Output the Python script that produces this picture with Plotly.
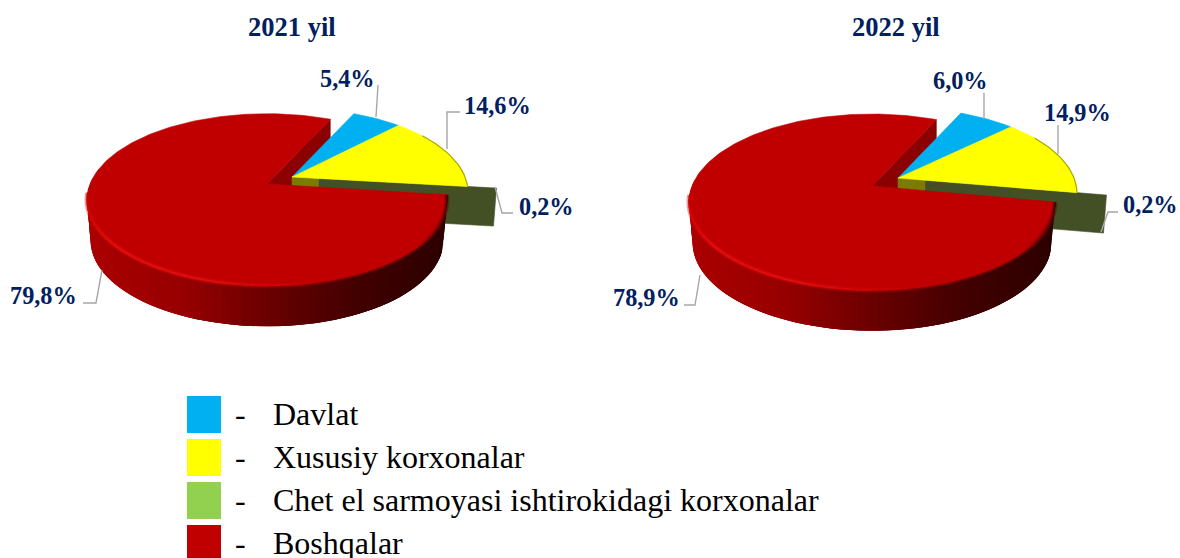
import numpy as np
import plotly.graph_objects as go

# ---- data ----
years = ["2021 yil", "2022 yil"]
categories = ["Davlat", "Xususiy korxonalar", "Chet el sarmoyasi ishtirokidagi korxonalar", "Boshqalar"]
values_2021 = [5.4, 14.6, 0.2, 79.8]
values_2022 = [6.0, 14.9, 0.2, 78.9]
labels_2021 = ["5,4%", "14,6%", "0,2%", "79,8%"]
labels_2022 = ["6,0%", "14,9%", "0,2%", "78,9%"]
colors = ["#00B0F0", "#FFFF00", "#92D050", "#C00000"]

# ---- layout of the drawing (pixels) ----
FONT = "Liberation Serif"
NAVY = "#002060"
K = 0.181
START = 65.4
pies = [
    dict(values=values_2021, labels=labels_2021, title=years[0], title_xy=(292, 27),
         red=(267, 184), rest=(292, 177), R=177, A=83, rest_R=173, depth=41,
         label_xy=[(347, 78), (497, 105), (546, 206), (43, 295)],
         leaders=[[(376, 117), (378, 85)], [(447, 149), (447, 112), (460, 112)],
                  [(495, 187), (502, 213), (513, 213)], [(102, 270), (96, 303), (83, 303)]]),
    dict(values=values_2022, labels=labels_2022, title=years[1], title_xy=(896, 27),
         red=(872, 186), rest=(898, 178), R=180, A=85, rest_R=176, depth=41,
         label_xy=[(960, 80), (1077, 112), (1150, 204), (646, 297)],
         leaders=[[(984, 119), (984, 93)], [(1058, 154), (1058, 125)],
                  [(1101, 232), (1108, 212), (1118, 212)], [(700, 275), (695, 305), (684, 305)]]),
]
legend_boxes = [(396, 433), (439, 476), (482, 519), (525, 558)]
legend_text_y = [414, 457, 500, 543]


def proj(center, R, A, deg, dz=0.0, shrink=1.0):
    """Perspective projection of a point on the rim of a tilted disc."""
    t = np.radians(deg)
    u, v = np.cos(t), np.sin(t)
    f = 1 + K * v
    return center[0] + R * shrink * u / f, center[1] + dz - A * v / f


def mix(stops, t):
    t = min(max(t, 0), 1) * (len(stops) - 1)
    i = min(int(t), len(stops) - 2)
    a, b = stops[i], stops[i + 1]
    c = [round(a[j] + (b[j] - a[j]) * (t - i)) for j in range(3)]
    return f"rgb({c[0]},{c[1]},{c[2]})"


def poly(fig, xs, ys, color, lw=0.6):
    fig.add_trace(go.Scatter(x=list(xs), y=list(ys), mode="lines", fill="toself", fillcolor=color,
                             line=dict(color=color, width=lw), hoverinfo="skip", showlegend=False))


def line(fig, xs, ys, color, width, opacity=1.0):
    fig.add_trace(go.Scatter(x=list(xs), y=list(ys), mode="lines", opacity=opacity,
                             line=dict(color=color, width=width),
                             hoverinfo="skip", showlegend=False))


fig = go.Figure()
annotations = []

WALL = [(170, 0, 0), (150, 0, 0), (105, 0, 0), (65, 0, 0), (45, 0, 0)]
RIM = [(205, 0, 0), (232, 14, 14), (226, 14, 14), (190, 0, 0), (190, 0, 0), (60, 0, 0)]

for p in pies:
    vals = np.array(p["values"], dtype=float)
    deg = vals / vals.sum() * 360
    a_blue_end = START - deg[0]
    a_yel_end = a_blue_end - deg[1]
    a_grn_end = a_yel_end - deg[2]
    red_from = a_grn_end + 360            # red runs counter-clockwise up to START + 360
    rc, oc = p["red"], p["rest"]
    R, A, rR, d = p["R"], p["A"], p["rest_R"], p["depth"]
    rA = A * rR / R

    # cut face of the red slice
    cx, cy = proj(rc, R, A, START)
    poly(fig, [rc[0], cx, cx, rc[0], rc[0]], [rc[1], cy, cy + d, rc[1] + d, rc[1]], "#8B0000")

    # walls of the pulled-out green slice
    ex, ey = proj(oc, rR, rA, a_yel_end)
    ox, oy = oc[0] + (ex - oc[0]) * 1.165, oc[1] + (ey - oc[1]) * 1.165
    nx, ny = oc[0] + (ex - oc[0]) * 0.15, oc[1] + (ey - oc[1]) * 0.15
    poly(fig, [nx, ox, ox - 3, nx, nx], [ny, oy, oy + 38, ny + 38, ny], "#434F25")
    poly(fig, [oc[0], nx, nx, oc[0], oc[0]], [oc[1], ny, ny + 20, oc[1] + 20, oc[1]], "#7B7B00")

    # blue and yellow slices
    for a0, a1, col in [(START, a_blue_end, colors[0]), (a_blue_end, a_yel_end, colors[1])]:
        th = np.linspace(a0, a1, 40)
        px, py = proj(oc, rR, rA, th)
        poly(fig, [oc[0], *px, oc[0]], [oc[1], *py, oc[1]], col)
    th = np.linspace(a_blue_end - 12, a_yel_end, 24)
    px, py = proj(oc, rR, rA, th)
    line(fig, px, py, "#A8A800", 1.2)

    # side wall of the red slice, shaded from left to right; each strip overlaps the next
    th = np.linspace(176, red_from, 70)
    x0 = rc[0] - R
    for i in range(len(th) - 1):
        tq = np.linspace(th[i], th[min(i + 3, len(th) - 1)], 4)
        xa, ya = proj(rc, R, A, tq)
        xb, yb = proj(rc, R, A, tq[::-1], dz=d, shrink=0.98)
        col = mix(WALL, (xa[0] - x0) / (2 * R))
        poly(fig, [*xa, *xb, xa[0]], [*ya, *yb, ya[0]], col, lw=0)

    # top of the red slice
    th = np.linspace(START, red_from, 220)
    px, py = proj(rc, R, A, th)
    poly(fig, [rc[0], *px, rc[0]], [rc[1], *py, rc[1]], colors[3])

    # bevel highlight on the front rim: a soft wide band under a thin bright one
    th = np.linspace(186, red_from, 60)
    px, py = proj(rc, R, A, th)
    for w, op in [(5, 0.4), (1.8, 1.0)]:
        for i in range(len(th) - 1):
            line(fig, px[i:i + 2], py[i:i + 2], mix(RIM, i / (len(th) - 2)), w, op)

    # leaders
    for seg in p["leaders"]:
        line(fig, [q[0] for q in seg], [q[1] for q in seg], "#A6A6A6", 1.4)

    # texts
    for txt, (lx, ly) in zip(p["labels"], p["label_xy"]):
        annotations.append(dict(x=lx, y=ly, text=f"<b>{txt}</b>", showarrow=False,
                                font=dict(family=FONT, size=24.3, color=NAVY)))
    annotations.append(dict(x=p["title_xy"][0], y=p["title_xy"][1], text=f"<b>{p['title']}</b>",
                            showarrow=False, font=dict(family=FONT, size=26.5, color=NAVY)))

# legend
shapes = []
for cat, col, (y0, y1), ty in zip(categories, colors, legend_boxes, legend_text_y):
    shapes.append(dict(type="rect", x0=187, x1=221, y0=y0, y1=y1, fillcolor=col, line=dict(width=0)))
    annotations.append(dict(x=233, y=ty, text="-", xanchor="left", showarrow=False,
                            font=dict(family=FONT, size=32, color="#000000")))
    annotations.append(dict(x=271, y=ty, text=cat, xanchor="left", showarrow=False,
                            font=dict(family=FONT, size=32, color="#000000")))

fig.update_layout(
    width=1180, height=558, margin=dict(l=0, r=0, t=0, b=0),
    paper_bgcolor="#FFFFFF", plot_bgcolor="#FFFFFF", showlegend=False,
    xaxis=dict(range=[0, 1180], visible=False, fixedrange=True),
    yaxis=dict(range=[558, 0], visible=False, fixedrange=True),
    annotations=annotations, shapes=shapes,
)
fig.write_html("out.html", config=dict(displayModeBar=False),
               post_script="document.body.style.margin='0';document.body.style.overflow='hidden';")
